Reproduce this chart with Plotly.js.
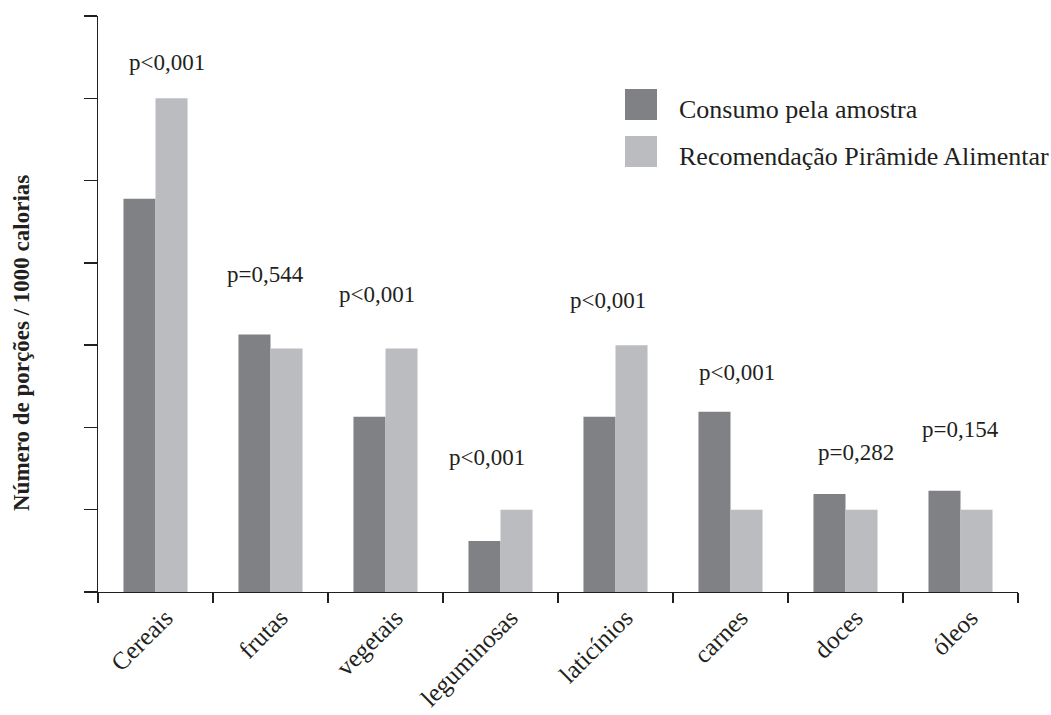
<!DOCTYPE html>
<html>
<head>
<meta charset="utf-8">
<script src="https://cdn.plot.ly/plotly-3.0.1.min.js"></script>
<style>html,body{margin:0;padding:0;background:#fff;}#chart{width:1051px;height:715px;}</style>
</head>
<body>
<div id="chart"></div>
<script>
// ---- data ----
var categories = ["Cereais", "frutas", "vegetais", "leguminosas", "laticínios", "carnes", "doces", "óleos"];
var consumo = [4.78, 3.13, 2.13, 0.62, 2.13, 2.19, 1.19, 1.23];
var recomendacao = [6, 2.96, 2.96, 1, 3, 1, 1, 1];
var pValues = ["p<0,001", "p=0,544", "p<0,001", "p<0,001", "p<0,001", "p<0,001", "p=0,282", "p=0,154"];
var pLabelY = [6.44, 3.86, 3.61, 1.64, 3.54, 2.67, 1.69, 1.98];
var seriesNames = ["Consumo pela amostra", "Recomendação Pirâmide Alimentar"];
var yTitle = "Número de porções / 1000 calorias";

// ---- style ----
var ink = "#231f20";
var darkGrey = "#808185";
var lightGrey = "#bbbcc0";
var serif = "Liberation Serif";
var pShift = [11, -5, -9, -14, -8, 6, 10, 0];

var traces = [
  {type: "bar", x: categories, y: consumo, name: seriesNames[0],
   marker: {color: darkGrey, line: {width: 0}}, showlegend: false, hoverinfo: "x+y"},
  {type: "bar", x: categories, y: recomendacao, name: seriesNames[1],
   marker: {color: lightGrey, line: {width: 0}}, showlegend: false, hoverinfo: "x+y"}
];

var annotations = pValues.map(function (t, i) {
  return {x: categories[i], y: pLabelY[i], xref: "x", yref: "y", text: t,
          showarrow: false, xanchor: "center", yanchor: "middle", xshift: pShift[i],
          font: {family: serif, size: 23, color: ink}};
});

// plot area in pixels: x 98..1018, y 16..592
function px(x) { return (x - 98) / 920; }
function py(y) { return (592 - y) / 576; }

annotations.push({x: px(677), y: py(110), xref: "paper", yref: "paper", text: seriesNames[0],
  showarrow: false, xanchor: "left", yanchor: "middle", font: {family: serif, size: 26, color: ink}});
annotations.push({x: px(677), y: py(157), xref: "paper", yref: "paper", text: seriesNames[1],
  showarrow: false, xanchor: "left", yanchor: "middle", font: {family: serif, size: 26, color: ink}});
annotations.push({x: px(22), y: py(343), xref: "paper", yref: "paper", text: "<b>" + yTitle + "</b>",
  textangle: -90, showarrow: false, xanchor: "center", yanchor: "middle",
  font: {family: serif, size: 23, color: ink}});

var shapes = [
  {type: "rect", xref: "paper", yref: "paper", x0: px(625), x1: px(657), y0: py(120), y1: py(89),
   fillcolor: darkGrey, line: {width: 0}},
  {type: "rect", xref: "paper", yref: "paper", x0: px(625), x1: px(657), y0: py(167), y1: py(136),
   fillcolor: lightGrey, line: {width: 0}}
];

var layout = {
  width: 1051, height: 715,
  margin: {l: 98, r: 33, t: 16, b: 123, pad: 0},
  paper_bgcolor: "#ffffff", plot_bgcolor: "#ffffff",
  barmode: "group", bargap: 0.443, bargroupgap: 0,
  showlegend: false,
  font: {family: serif, color: ink},
  xaxis: {
    type: "category", tickson: "boundaries", ticks: "outside", ticklen: 10, tickwidth: 1.3,
    tickcolor: ink, showline: true, linecolor: ink, linewidth: 1.3, showgrid: false,
    zeroline: false, tickangle: -45, tickfont: {family: serif, size: 25, color: ink},
    ticklabelshift: 10, ticklabelstandoff: 0,
    range: [-0.5, 7.5], fixedrange: true
  },
  yaxis: {
    range: [0, 7], tickmode: "array", tickvals: [0, 1, 2, 3, 4, 5, 6, 7],
    showticklabels: false, ticks: "outside", ticklen: 13, tickwidth: 1.3, tickcolor: ink,
    showline: true, linecolor: ink, linewidth: 1.3, showgrid: false, zeroline: false,
    fixedrange: true
  },
  annotations: annotations,
  shapes: shapes
};

Plotly.newPlot("chart", traces, layout, {displayModeBar: false, staticPlot: true});
</script>
</body>
</html>
